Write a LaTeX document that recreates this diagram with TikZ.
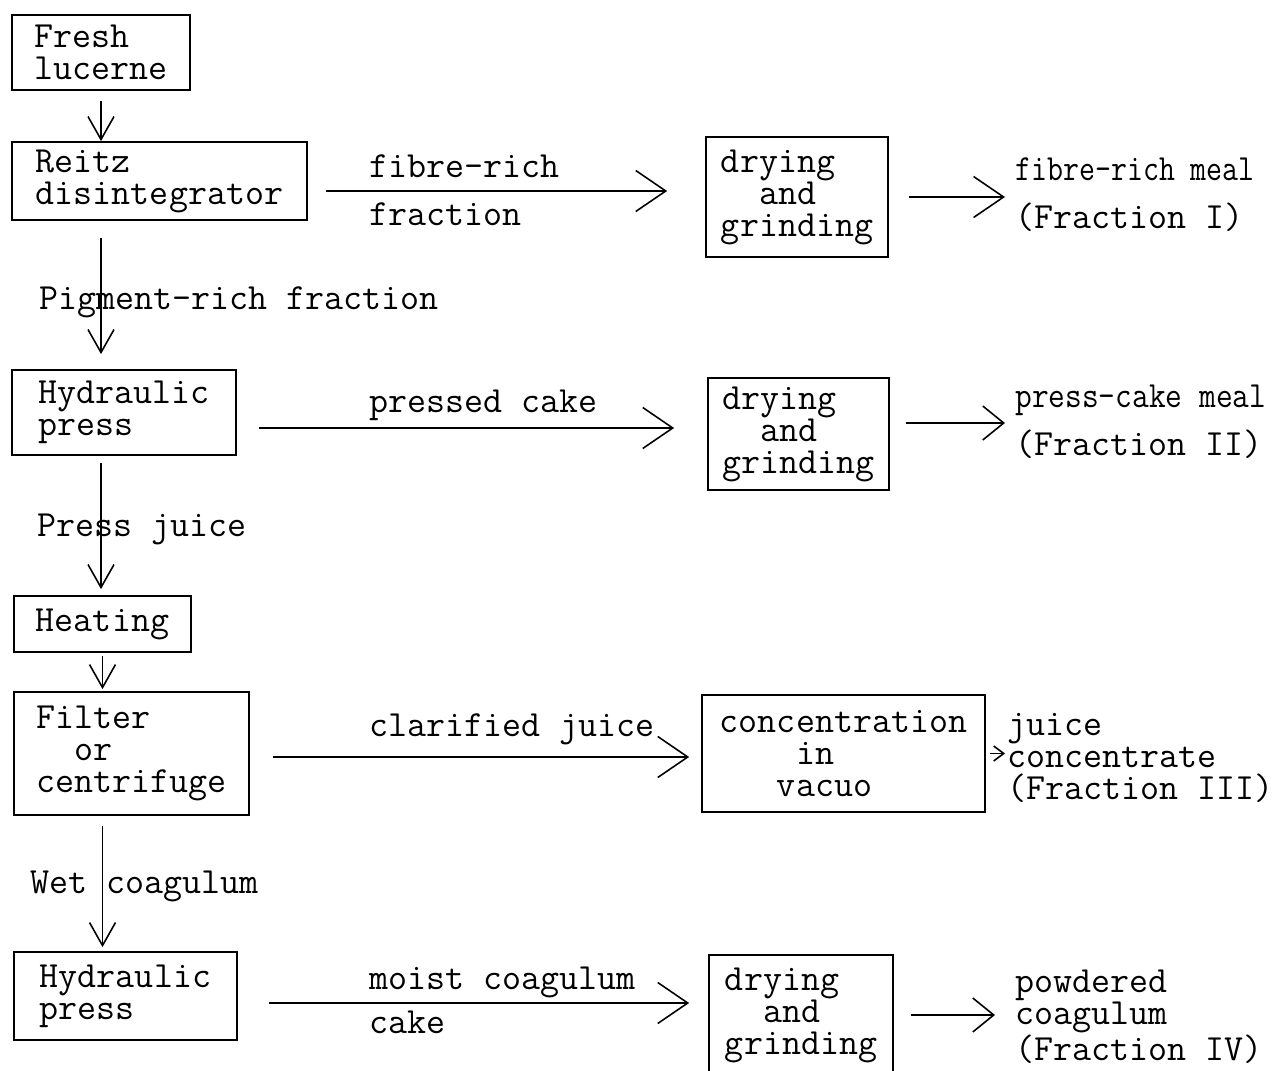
\documentclass[tikz,border=0pt]{standalone}
\usepackage{fontspec}
\usepackage{graphicx}
\usetikzlibrary{arrows.meta}

\tikzset{
    box/.style={draw, line width=1pt, align=left, inner sep=0pt},
    txt/.style={align=left, inner sep=0pt, anchor=west},
    lab/.style={anchor=base west, inner sep=0pt},
    vlab/.style={anchor=west, inner sep=0pt},
    flow/.style={line width=0.9pt, -{Straight Barb[length=0.6cm, width=0.82cm]}},
    feed/.style={line width=0.9pt, -{Straight Barb[length=0.46cm, width=0.52cm]}},
    yield/.style={line width=0.9pt, -{Straight Barb[length=0.42cm, width=0.68cm]}},
    nib/.style={line width=0.9pt, -{Straight Barb[length=0.2cm, width=0.3cm]}}
}

\begin{document}
\begin{tikzpicture}[x=0.02cm, y=-0.02cm, font=\ttfamily\fontsize{21}{18.2}\selectfont]
    \useasboundingbox (0,0) rectangle (1286,1071);

    \node[box, minimum width=3.56cm, minimum height=1.5cm] (fresh) at (101,52.5) {Fresh\\lucerne};
    \node[box, minimum width=5.9cm, minimum height=1.56cm] (reitz) at (159.5,181) {Reitz\\disintegrator};
    \node[box, minimum width=4.48cm, minimum height=1.7cm] (press) at (124,412.5) {Hydraulic\\press};
    \node[box, minimum width=3.54cm, minimum height=1.12cm] (heat) at (102.5,624) {Heating};
    \node[box, minimum width=4.7cm, minimum height=2.46cm] (filter) at (131.5,753.5) {Filter\\\phantom{xx}or\\centrifuge};
    \node[box, minimum width=4.46cm, minimum height=1.76cm] (repress) at (125.5,996) {Hydraulic\\press};

    \node[box, minimum width=3.64cm, minimum height=2.4cm] (dryA) at (797,197) {drying\\\phantom{xx}and\\grinding};
    \node[box, minimum width=3.62cm, minimum height=2.24cm] (dryB) at (798.5,434) {drying\\\phantom{xx}and\\grinding};
    \node[box, minimum width=5.66cm, minimum height=2.34cm] (conc) at (843.5,753.5) {concentration\\\phantom{xxxx}in\\\phantom{xxx}vacuo};
    \node[box, minimum width=3.68cm, minimum height=2.4cm] (dryC) at (801,1015) {drying\\\phantom{xx}and\\grinding};

    \node[txt] (mealA) at (1015,195) {\scalebox{0.84}[1]{fibre-rich meal}\\[0.32cm](Fraction I)};
    \node[txt] (mealB) at (1015,422) {\scalebox{0.88}[1]{press-cake meal}\\[0.24cm](Fraction II)};
    \node[txt] (juice) at (1007,758) {juice\\concentrate\\(Fraction III)};
    \node[txt] (powder) at (1015,1017) {powdered\\coagulum\\(Fraction IV)};

    \draw[feed, shorten <=0.2cm] (fresh.south) -- (fresh.south |- reitz.north);
    \draw[feed, shorten <=0.34cm, shorten >=0.3cm] (fresh.south |- reitz.south) -- (fresh.south |- press.north)
        node[vlab, pos=0.55, xshift=-1.24cm] {Pigment-rich fraction};
    \draw[feed, shorten <=0.14cm, shorten >=0.12cm] (fresh.south |- press.south) -- (fresh.south |- heat.north)
        node[vlab, pos=0.53, xshift=-1.28cm] {Press juice};
    \draw[feed, shorten <=0.06cm, shorten >=0.04cm] (heat.south) -- (heat.south |- filter.north);
    \draw[feed, shorten <=0.2cm, shorten >=0.08cm] (heat.south |- filter.south) -- (heat.south |- repress.north)
        node[vlab, pos=0.52, xshift=-1.45cm] {Wet coagulum};

    \draw[flow, shorten <=0.36cm, shorten >=0.76cm] ([yshift=-0.2cm]reitz.east) -- ([yshift=-0.2cm]reitz.east -| dryA.west)
        node[lab, pos=0, xshift=1.22cm, yshift=0.26cm] {fibre-rich}
        node[lab, pos=0, xshift=1.22cm, yshift=-0.7cm] {fraction};
    \draw[flow, shorten <=0.44cm, shorten >=0.66cm] ([yshift=-0.31cm]press.east) -- ([yshift=-0.31cm]press.east -| dryB.west)
        node[lab, pos=0, xshift=2.64cm, yshift=0.3cm] {pressed cake};
    \draw[flow, shorten <=0.46cm, shorten >=0.24cm] ([yshift=-0.07cm]filter.east) -- ([yshift=-0.07cm]filter.east -| conc.west)
        node[lab, pos=0, xshift=2.38cm, yshift=0.42cm] {clarified juice};
    \draw[flow, shorten <=0.62cm, shorten >=0.38cm] ([yshift=-0.14cm]repress.east) -- ([yshift=-0.14cm]repress.east -| dryC.west)
        node[lab, pos=0, xshift=2.62cm, yshift=0.28cm] {moist coagulum}
        node[lab, pos=0, xshift=2.62cm, yshift=-0.62cm] {cake};

    \draw[flow, shorten <=0.4cm, shorten >=0.2cm] (dryA.east) -- (dryA.east -| mealA.west);
    \draw[yield, shorten <=0.32cm, shorten >=0.2cm] ([yshift=0.22cm]dryB.east) -- ([yshift=0.22cm]dryB.east -| mealB.west);
    \draw[nib, shorten <=0.08cm, shorten >=0.04cm] (conc.east) -- (conc.east -| juice.west);
    \draw[yield, shorten <=0.34cm, shorten >=0.4cm] (dryC.east) -- (dryC.east -| powder.west);
\end{tikzpicture}
\end{document}
